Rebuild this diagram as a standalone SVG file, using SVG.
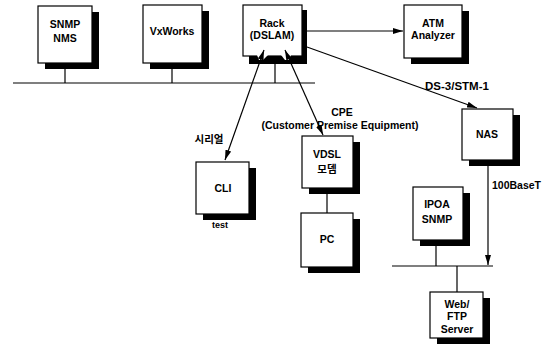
<svg xmlns="http://www.w3.org/2000/svg" width="542" height="352" viewBox="0 0 542 352">
<defs>
<marker id="ah" viewBox="0 0 10 6" refX="10" refY="3" markerWidth="10" markerHeight="6" markerUnits="userSpaceOnUse" orient="auto-start-reverse">
<path d="M0,0 L10,3 L0,6 Z" fill="#000"/>
</marker>
</defs>
<style>
.sh{fill:#000}
.bx{fill:#fff;stroke:#000;stroke-width:1.2}
.t{font-family:"Liberation Sans","Noto Sans CJK KR",sans-serif;font-size:10.5px;font-weight:bold;fill:#000;text-anchor:middle}
.l{font-family:"Liberation Sans","Noto Sans CJK KR",sans-serif;font-size:10.5px;font-weight:bold;fill:#000}
.c{stroke:#000;stroke-width:1.2;fill:none}
.n{fill:#fff}
</style>
<rect width="542" height="352" fill="#fff"/>
<g id="snmp-nms">
<rect class="sh" x="45" y="12" width="54" height="57"/>
<rect class="bx" x="38" y="6" width="54" height="57"/>
<text class="t" x="65" y="28">SNMP</text>
<text class="t" x="65" y="42">NMS</text>
</g>
<g id="vxworks">
<rect class="sh" x="150" y="11" width="59" height="58"/>
<rect class="bx" x="143" y="5" width="59" height="58"/>
<text class="t" x="172" y="35">VxWorks</text>
</g>
<g id="rack">
<rect class="sh" x="249" y="10" width="58" height="54"/>
<rect class="bx" x="243" y="5" width="59" height="51"/>
<polygon class="n" points="257,55 268,55 263,60 259,60"/>
<polygon class="n" points="281,55 291,55 289,60 285,60"/>
<text class="t" x="272" y="27">Rack</text>
<text class="t" x="272" y="39">(DSLAM)</text>
</g>
<g id="atm">
<rect class="sh" x="411" y="11" width="58" height="53"/>
<rect class="bx" x="404" y="5" width="58" height="53"/>
<text class="t" x="433" y="27">ATM</text>
<text class="t" x="433" y="39">Analyzer</text>
</g>
<g id="cli">
<rect class="sh" x="203" y="168" width="53" height="52"/>
<rect class="bx" x="196" y="162" width="53" height="52"/>
<text class="t" x="223" y="192">CLI</text>
<text class="t" x="220" y="228" style="font-size:9px">test</text>
</g>
<g id="vdsl">
<rect class="sh" x="309" y="142" width="51" height="52"/>
<rect class="bx" x="302" y="136" width="51" height="52"/>
<text class="t" x="327" y="158">VDSL</text>
<text class="t" x="327" y="173">모뎀</text>
</g>
<g id="pc">
<rect class="sh" x="308" y="219" width="52" height="54"/>
<rect class="bx" x="301" y="213" width="52" height="54"/>
<text class="t" x="327" y="243">PC</text>
</g>
<g id="nas">
<rect class="sh" x="469" y="115" width="51" height="51"/>
<rect class="bx" x="462" y="109" width="51" height="51"/>
<text class="t" x="487" y="138">NAS</text>
</g>
<g id="ipoa">
<rect class="sh" x="420" y="193" width="50" height="53"/>
<rect class="bx" x="413" y="187" width="50" height="53"/>
<text class="t" x="437" y="208">IPOA</text>
<text class="t" x="437" y="223">SNMP</text>
</g>
<g id="web">
<rect class="sh" x="437" y="298" width="53" height="46"/>
<rect class="bx" x="430" y="292" width="53" height="46"/>
<text class="t" x="457" y="308">Web/</text>
<text class="t" x="457" y="320">FTP</text>
<text class="t" x="457" y="333">Server</text>
</g>
<g id="connectors">
<line class="c" x1="65" y1="69" x2="65" y2="83"/>
<line class="c" x1="172" y1="69" x2="172" y2="83"/>
<line class="c" x1="275" y1="64" x2="275" y2="83"/>
<line class="c" x1="13" y1="83" x2="315" y2="83"/>
<line class="c" x1="307" y1="31" x2="403" y2="31" marker-end="url(#ah)"/>
<line class="c" x1="307" y1="47" x2="477" y2="108" marker-end="url(#ah)"/>
<line class="c" x1="264" y1="50" x2="225" y2="160" marker-start="url(#ah)" marker-end="url(#ah)"/>
<line class="c" x1="285" y1="50" x2="323" y2="135" marker-start="url(#ah)" marker-end="url(#ah)"/>
<line class="c" x1="327" y1="194" x2="327" y2="213"/>
<line class="c" x1="488" y1="166" x2="488" y2="265" marker-end="url(#ah)"/>
<line class="c" x1="392" y1="266" x2="493" y2="266"/>
<line class="c" x1="436" y1="246" x2="436" y2="266"/>
<line class="c" x1="457" y1="266" x2="457" y2="292"/>
<text class="l" x="425" y="90" style="font-size:11.5px">DS-3/STM-1</text>
<text class="l" x="492" y="189">100BaseT</text>
<text class="t" x="209" y="143">시리얼</text>
<text class="t" x="342" y="116">CPE</text>
<text class="t" x="340" y="129">(Customer Premise Equipment)</text>
</g>
</svg>
